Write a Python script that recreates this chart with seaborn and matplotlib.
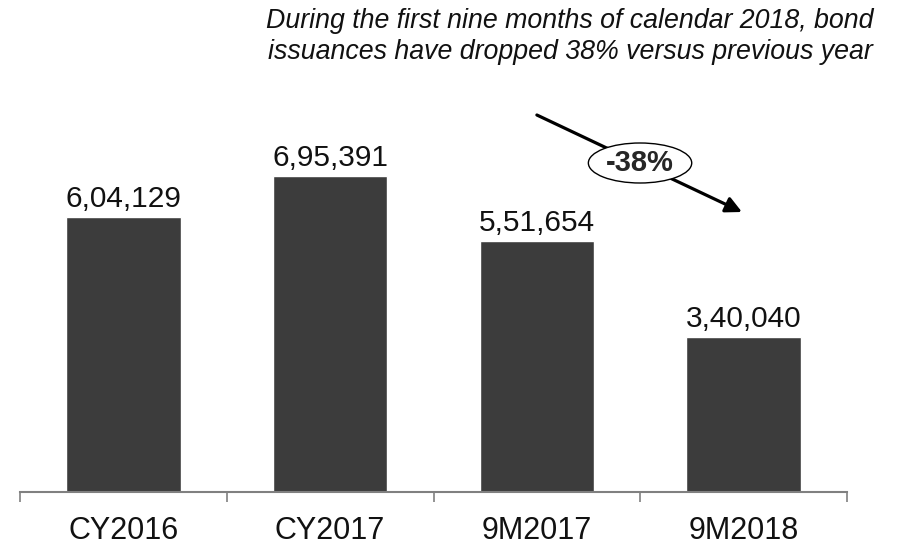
import matplotlib
matplotlib.use("Agg")
import matplotlib.pyplot as plt
from matplotlib.patches import Ellipse
import seaborn as sns
import pandas as pd

periods = ["CY2016", "CY2017", "9M2017", "9M2018"]
issuance = [604129, 695391, 551654, 340040]
change_label = "-38%"
title = ("During the first nine months of calendar 2018, bond\n"
         "issuances have dropped 38% versus previous year")


def indian_format(n):
    s = str(int(n))
    if len(s) <= 3:
        return s
    head, tail = s[:-3], s[-3:]
    parts = []
    while len(head) > 2:
        parts.insert(0, head[-2:])
        head = head[:-2]
    if head:
        parts.insert(0, head)
    return ",".join(parts) + "," + tail


sns.set_style("white")
plt.rcParams["font.family"] = ["Liberation Sans", "DejaVu Sans"]

df = pd.DataFrame({"period": periods, "issuance": issuance})

fig = plt.figure(figsize=(8.99, 5.44), dpi=100)
ax = fig.add_axes([20 / 899, 52 / 544, 827 / 899, 492 / 544])

sns.barplot(data=df, x="period", y="issuance", color="#3c3c3c",
            saturation=1, width=0.555, ax=ax)

ax.set_xlim(-0.5, 3.5)
ax.set_ylim(0, 492 * 2200)
ax.bar_label(ax.containers[0], labels=[indian_format(v) for v in issuance],
             padding=3, fontsize=21.5, color="#111111")

for s in ["top", "right", "left"]:
    ax.spines[s].set_visible(False)
ax.spines["bottom"].set_color("#808080")
ax.spines["bottom"].set_linewidth(1.5)

ax.set_xticks([-0.5, 0.5, 1.5, 2.5, 3.5])
ax.set_xticklabels([])
ax.tick_params(axis="x", which="major", bottom=True, length=7.5, width=1.2,
               color="#808080", direction="out")
ax.set_xticks(range(len(periods)), minor=True)
ax.set_xticklabels(periods, minor=True, fontsize=22, color="#111111")
ax.tick_params(axis="x", which="minor", bottom=True, length=0, pad=17)
ax.set_yticks([])
ax.set_xlabel("")
ax.set_ylabel("")

# trend arrow with ellipse label
ax.annotate("", xy=(2.992, 616000), xytext=(2.0, 829400),
            arrowprops=dict(arrowstyle="-|>", color="black", lw=2.3,
                            mutation_scale=24, shrinkA=0, shrinkB=0),
            zorder=3)
ax.add_patch(Ellipse((2.499, 723800), 0.5, 88000, facecolor="white",
                     edgecolor="black", lw=1, zorder=4))
ax.text(2.499, 723800, change_label, ha="center", va="center",
        fontsize=21, fontweight="bold", zorder=5)

fig.text(873 / 899, 1 - 8 / 544, title, ha="right", va="top",
         fontsize=19.3, style="italic", multialignment="right",
         linespacing=1.25, color="#111111")

fig.savefig("out.png", dpi=100)
